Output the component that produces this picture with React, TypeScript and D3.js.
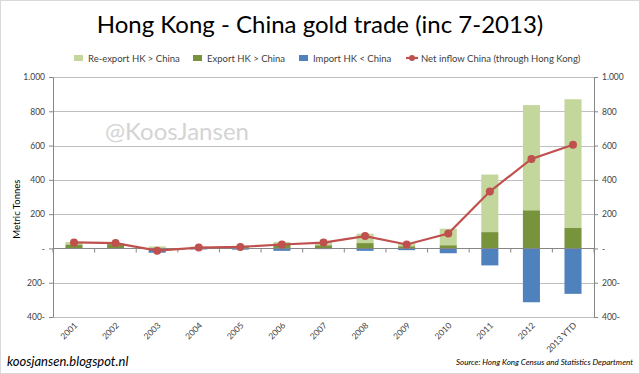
import React, { useEffect, useRef } from 'react';
import * as d3 from 'd3';

const years = ['2001', '2002', '2003', '2004', '2005', '2006', '2007', '2008', '2009', '2010', '2011', '2012', '2013 YTD'];
const reexport = [15, 8, 10, 8, 8, 9, 20, 55, 21, 97, 336, 614, 751];
const exportHK = [22, 25, 2, 3, 8, 28, 18, 31, 12, 18, 95, 222, 119];
const importHK = [2, 2, 25, 6, 7, 14, 4, 14, 10, 28, 99, 314, 265];
const netInflow = [35, 31, -13, 5, 9, 23, 34, 72, 23, 87, 332, 522, 605];
const yTicks = [-400, -200, 0, 200, 400, 600, 800, 1000];

const W = 640, H = 374;
const FONT = 'Lato, "Open Sans", sans-serif';

const fmt = (v: number) => {
  if (v === 0) return '-';
  const s = Math.abs(v) >= 1000 ? d3.format(',')(Math.abs(v)).replace(',', '.') : String(Math.abs(v));
  return v < 0 ? s + '-' : s;
};

const App = () => {
  const svgRef = useRef<SVGSVGElement>(null);

  useEffect(() => {
    document.body.style.margin = '0';
    const svg = d3.select(svgRef.current);
    svg.selectAll('*').remove();

    const left = 53, right = 594, top = 77, bottom = 317;
    const x = d3.scaleBand().domain(years).range([left, right]).paddingInner(0.59).paddingOuter(0.3);
    const step = (right - left) / years.length;
    const y = d3.scaleLinear().domain([-400, 1000]).range([bottom, top]);

    svg.append('rect').attr('x', 0.5).attr('y', 0.5).attr('width', W - 1).attr('height', H - 1)
      .attr('fill', '#fff').attr('stroke', '#d9d9d9');

    // title
    svg.append('text').attr('x', 320).attr('y', 33).attr('text-anchor', 'middle')
      .attr('font-family', FONT).attr('font-size', 24).attr('fill', '#000')
      .text('Hong Kong - China gold trade (inc 7-2013)');

    // gridlines
    svg.append('g').selectAll('line').data(yTicks).enter().append('line')
      .attr('x1', left).attr('x2', right)
      .attr('y1', d => Math.round(y(d)) + 0.5).attr('y2', d => Math.round(y(d)) + 0.5)
      .attr('stroke', '#bfbfbf').attr('stroke-width', 1);

    // axes
    const axisL = svg.append('g').attr('transform', `translate(${left},0)`)
      .call(d3.axisLeft(y).tickValues(yTicks).tickFormat(d => fmt(+d)).tickSize(4).tickSizeOuter(0));
    const axisR = svg.append('g').attr('transform', `translate(${right},0)`)
      .call(d3.axisRight(y).tickValues(yTicks).tickFormat(d => fmt(+d)).tickSize(4).tickSizeOuter(0));
    [axisL, axisR].forEach(a => {
      a.select('.domain').attr('stroke', '#868686');
      a.selectAll('.tick line').attr('stroke', '#868686');
      a.selectAll('text').attr('font-family', FONT).attr('font-size', 8.5).attr('fill', '#404040');
    });
    axisL.selectAll('text').attr('x', -8);
    axisR.selectAll('text').attr('x', 8);

    // bars
    const g = svg.append('g');
    years.forEach((yr, i) => {
      const bx = x(yr) as number, bw = x.bandwidth();
      g.append('rect').attr('x', bx).attr('width', bw)
        .attr('y', y(exportHK[i] + reexport[i])).attr('height', y(exportHK[i]) - y(exportHK[i] + reexport[i]))
        .attr('fill', '#c3d69b');
      g.append('rect').attr('x', bx).attr('width', bw)
        .attr('y', y(exportHK[i])).attr('height', y(0) - y(exportHK[i]))
        .attr('fill', '#77933c');
      g.append('rect').attr('x', bx).attr('width', bw)
        .attr('y', y(0)).attr('height', y(-importHK[i]) - y(0))
        .attr('fill', '#4f81bd');
    });

    // category axis on zero line
    const y0 = Math.round(y(0)) + 0.5;
    svg.append('line').attr('x1', left).attr('x2', right).attr('y1', y0).attr('y2', y0).attr('stroke', '#868686');
    svg.append('g').selectAll('line').data(d3.range(years.length + 1)).enter().append('line')
      .attr('x1', i => left + i * step).attr('x2', i => left + i * step)
      .attr('y1', y0).attr('y2', y0 + 4).attr('stroke', '#868686');

    // x labels
    svg.append('g').selectAll('text').data(years).enter().append('text')
      .attr('transform', d => `translate(${(x(d) as number) + x.bandwidth() / 2 + 4},${326}) rotate(-45)`)
      .attr('text-anchor', 'end').attr('font-family', FONT).attr('font-size', 8.5).attr('fill', '#404040')
      .text(d => d);

    // net line
    const line = d3.line<number>().x((d, i) => (x(years[i]) as number) + x.bandwidth() / 2).y(d => y(d));
    svg.append('path').datum(netInflow).attr('d', line).attr('fill', 'none')
      .attr('stroke', '#c0504d').attr('stroke-width', 2.2);
    svg.append('g').selectAll('circle').data(netInflow).enter().append('circle')
      .attr('cx', (d, i) => (x(years[i]) as number) + x.bandwidth() / 2).attr('cy', d => y(d))
      .attr('r', 4).attr('fill', '#c0504d');

    // y title
    svg.append('text').attr('transform', `translate(20,${y(200) - 5}) rotate(-90)`)
      .attr('text-anchor', 'middle').attr('font-family', FONT).attr('font-size', 9.5).attr('fill', '#000')
      .text('Metric Tonnes');

    // watermark
    svg.append('text').attr('x', 105).attr('y', 140).attr('font-family', FONT).attr('font-size', 24)
      .attr('fill', '#d4d4d4').text('@KoosJansen');

    // legend
    const lg = svg.append('g').attr('font-family', FONT).attr('font-size', 9.5).attr('fill', '#404040');
    const items = [
      { label: 'Re-export HK > China', color: '#c3d69b', x: 74 },
      { label: 'Export HK > China', color: '#77933c', x: 193 },
      { label: 'Import HK < China', color: '#4f81bd', x: 299 },
    ];
    items.forEach(it => {
      lg.append('rect').attr('x', it.x).attr('y', 55).attr('width', 9).attr('height', 6).attr('fill', it.color);
      lg.append('text').attr('x', it.x + 14).attr('y', 61.5).text(it.label);
    });
    lg.append('line').attr('x1', 406).attr('x2', 418).attr('y1', 58).attr('y2', 58)
      .attr('stroke', '#c0504d').attr('stroke-width', 2.2);
    lg.append('circle').attr('cx', 412).attr('cy', 58).attr('r', 3).attr('fill', '#c0504d');
    lg.append('text').attr('x', 421).attr('y', 61.5).text('Net inflow China (through Hong Kong)');

    // footer
    svg.append('text').attr('x', 7).attr('y', 366).attr('font-family', FONT).attr('font-size', 13)
      .attr('font-style', 'italic').attr('fill', '#000').text('koosjansen.blogspot.nl');
    svg.append('text').attr('x', 633).attr('y', 365).attr('text-anchor', 'end').attr('font-family', FONT)
      .attr('font-size', 8).attr('font-style', 'italic').attr('fill', '#000')
      .text('Source: Hong Kong Census and Statistics Department');
  }, []);

  return <svg ref={svgRef} width={W} height={H} style={{ display: 'block' }} />;
};

export default App;
